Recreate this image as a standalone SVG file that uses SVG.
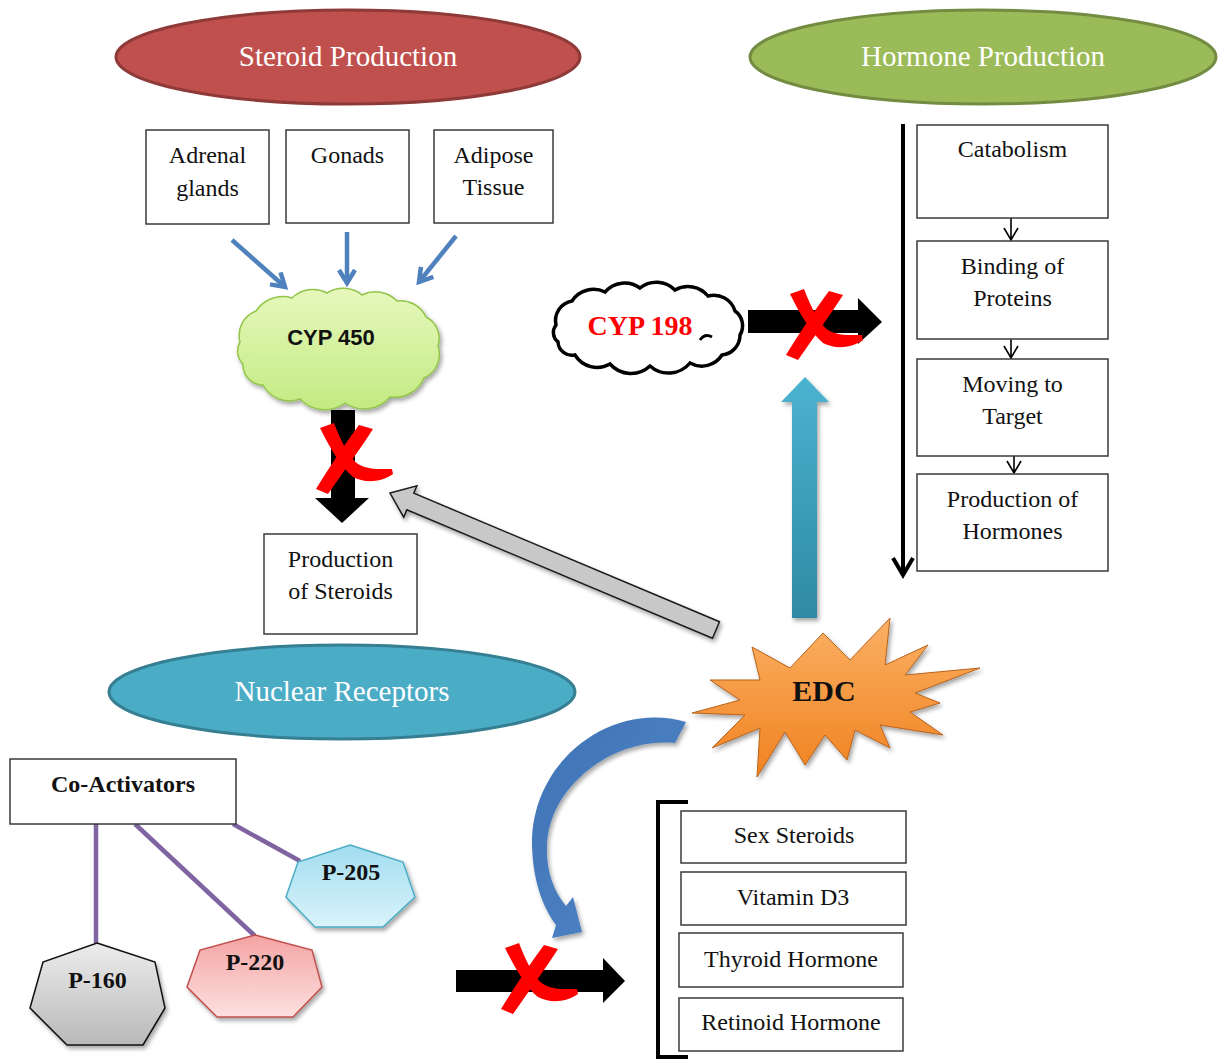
<svg xmlns="http://www.w3.org/2000/svg" width="1218" height="1061" viewBox="0 0 1218 1061">
<style>
.box{fill:#fff;stroke:#3a3a3a;stroke-width:1.5}
.t{font-family:"Liberation Serif","Times New Roman",serif;font-size:24px;fill:#111;text-anchor:middle}
.tb{font-family:"Liberation Serif","Times New Roman",serif;font-weight:bold;fill:#111;text-anchor:middle}
.tw{font-family:"Liberation Serif","Times New Roman",serif;font-size:29px;fill:#fff;text-anchor:middle}
.blue{stroke:#4f81bd;stroke-width:4.5;fill:none}
.purple{stroke:#8064a2;stroke-width:4.5;fill:none}
.chev{stroke:#000;stroke-width:1.6;fill:none}
</style>
<defs>
<filter id="sh" x="-20%" y="-20%" width="140%" height="140%"><feDropShadow dx="2" dy="3" stdDeviation="2" flood-color="#000" flood-opacity="0.35"/></filter>
<linearGradient id="gGreen" x1="0" y1="0" x2="0" y2="1"><stop offset="0" stop-color="#e6f8bc"/><stop offset="1" stop-color="#c3ea82"/></linearGradient>
<linearGradient id="gOrange" x1="0" y1="0" x2="0" y2="1"><stop offset="0" stop-color="#fbb064"/><stop offset="1" stop-color="#f08220"/></linearGradient>
<linearGradient id="gTeal" x1="0" y1="0" x2="0" y2="1"><stop offset="0" stop-color="#4bb3d0"/><stop offset="1" stop-color="#2f8aa3"/></linearGradient>
<linearGradient id="gBlue" x1="0" y1="0" x2="1" y2="1"><stop offset="0" stop-color="#3f73b5"/><stop offset="1" stop-color="#4f86c8"/></linearGradient>
<linearGradient id="gGray" x1="0" y1="0" x2="0" y2="1"><stop offset="0" stop-color="#ececec"/><stop offset="1" stop-color="#b9b9b9"/></linearGradient>
<linearGradient id="gPink" x1="0" y1="0" x2="0" y2="1"><stop offset="0" stop-color="#f4a3a3"/><stop offset="1" stop-color="#fde0e0"/></linearGradient>
<linearGradient id="gSky" x1="0" y1="0" x2="0" y2="1"><stop offset="0" stop-color="#a2ddef"/><stop offset="1" stop-color="#d9f3fb"/></linearGradient>
<marker id="bhead" viewBox="0 0 20 20" refX="16" refY="10" markerWidth="20" markerHeight="20" orient="auto" markerUnits="userSpaceOnUse"><path d="M3,2 L16,10 L3,18" fill="none" stroke="#4f81bd" stroke-width="4.5"/></marker>
<g id="redx" fill="#ff0000">
<path d="M -32 -28 L -18 -33 C -11 -15, -3 2, 6 8 C 16 14, 28 13, 40 13 L 41 18 C 28 27, 12 27, 1 21 C -11 11, -22 -8, -32 -28 Z"/>
<path d="M 7 -31 L 21 -27 C 9 -8, -8 15, -24 38 L -36 33 C -22 10, -7 -12, 7 -31 Z"/>
</g>
</defs>
<rect width="1218" height="1061" fill="#fff"/>

<g id="connectors">
<line class="blue" x1="232" y1="240" x2="285" y2="287" marker-end="url(#bhead)"/>
<line class="blue" x1="347" y1="232" x2="347" y2="283" marker-end="url(#bhead)"/>
<line class="blue" x1="456" y1="236" x2="419" y2="282" marker-end="url(#bhead)"/>
<polygon points="331,410 355,410 355,498 369,498 342,523 315,498 331,498" fill="#000"/>
<polygon points="390,493 416.9,485.8 413.8,493.2 719.5,621.7 712.5,638.3 406.8,509.8 403.7,517.2" fill="#c8c8c8" stroke="#1a1a1a" stroke-width="1.5" filter="url(#sh)"/>
<polygon points="748,310 858,310 858,298 882,322 858,344 858,333 748,333" fill="#000"/>
<polygon points="792,618 817,618 817,402 829,402 805,377 781,402 792,402" fill="url(#gTeal)" filter="url(#sh)"/>
<line x1="903" y1="124" x2="903" y2="574" stroke="#000" stroke-width="4"/>
<path d="M 893 558 L 903 575 L 913 558" fill="none" stroke="#000" stroke-width="4"/>
<path class="chev" d="M1011 218 L1011 240 M1004 228 L1011 240 L1018 228"/>
<path class="chev" d="M1011 339 L1011 358 M1004 346 L1011 358 L1018 346"/>
<path class="chev" d="M1014 456 L1014 473 M1007 461 L1014 473 L1021 461"/>
<path d="M 686 722 C 612 700, 531 760, 532 845 C 533 885, 545 910, 556 925 L 552 938 L 582 932 L 573 897 L 566 906 C 553 890, 546 870, 547 845 C 549 787, 612 737, 675 743 Z" fill="url(#gBlue)" filter="url(#sh)"/>
<polygon points="456,970 603,970 603,958 625,981 603,1003 603,992 456,992" fill="#000"/>
<path d="M 688 802 L 658 802 L 658 1057 L 688 1057" fill="none" stroke="#000" stroke-width="4"/>
<path class="purple" d="M96 824 L96 943"/>
<path class="purple" d="M135 824 L255 936"/>
<path class="purple" d="M233 824 L300 861"/>
<use href="#redx" transform="translate(352,456)"/>
<use href="#redx" transform="translate(822,322)"/>
<use href="#redx" transform="translate(537,976)"/>
</g>

<g id="steroid-production">
<ellipse cx="348" cy="57" rx="232" ry="47" fill="#c0504d" stroke="#8e3a38" stroke-width="3"/>
<text class="tw" x="348" y="66">Steroid Production</text>
</g>
<g id="hormone-production">
<ellipse cx="983" cy="57" rx="233" ry="47" fill="#9bbb59" stroke="#738c42" stroke-width="3"/>
<text class="tw" x="983" y="66">Hormone Production</text>
</g>
<g id="adrenal">
<rect class="box" x="146" y="130" width="123" height="94"/>
<text class="t" x="207.5" y="163">Adrenal</text><text class="t" x="207.5" y="196">glands</text>
</g>
<g id="gonads">
<rect class="box" x="286" y="130" width="123" height="93"/>
<text class="t" x="347.5" y="163">Gonads</text>
</g>
<g id="adipose">
<rect class="box" x="434" y="130" width="119" height="93"/>
<text class="t" x="493.5" y="163">Adipose</text><text class="t" x="493.5" y="195">Tissue</text>
</g>
<g id="cyp450">
<path d="M240 342 A26 26 0 0 1 256 311 A32 32 0 0 1 292 298 A30 30 0 0 1 327 293 A30 30 0 0 1 362 295 A30 30 0 0 1 397 301 A28 28 0 0 1 426 317 A24 24 0 0 1 438 346 A26 26 0 0 1 424 378 A32 32 0 0 1 390 397 A34 34 0 0 1 345 403 A34 34 0 0 1 300 399 A30 30 0 0 1 263 385 A20 20 0 0 1 243 364 A18 18 0 0 1 240 342 Z" fill="url(#gGreen)" stroke="#93c54b" stroke-width="1.5" filter="url(#sh)"/>
<text x="331" y="345" font-family="'Liberation Sans',Arial,sans-serif" font-weight="bold" font-size="22" text-anchor="middle" fill="#111">CYP 450</text>
</g>
<g id="cyp198">
<path d="M556 325 A20 20 0 0 1 572 301 A26 26 0 0 1 605 292 A26 26 0 0 1 640 288 A26 26 0 0 1 675 290 A26 26 0 0 1 708 296 A22 22 0 0 1 735 311 A18 18 0 0 1 740 335 A20 20 0 0 1 722 355 A24 24 0 0 1 690 363 A28 28 0 0 1 650 366 A28 28 0 0 1 610 364 A26 26 0 0 1 575 355 A14 14 0 0 1 558 342 A12 12 0 0 1 556 325 Z" fill="#fff" stroke="#000" stroke-width="3.5"/>
<path d="M 700 340 q 5 -7 12 -3" fill="none" stroke="#000" stroke-width="3"/>
<text class="tb" x="640" y="335" font-size="28" style="fill:#ff0000">CYP 198</text>
</g>
<g id="production-steroids">
<rect class="box" x="264" y="534" width="153" height="100"/>
<text class="t" x="340.5" y="567">Production</text><text class="t" x="340.5" y="599">of Steroids</text>
</g>
<g id="catabolism">
<rect class="box" x="917" y="125" width="191" height="93"/>
<text class="t" x="1012.5" y="157">Catabolism</text>
</g>
<g id="binding">
<rect class="box" x="917" y="241" width="191" height="98"/>
<text class="t" x="1012.5" y="274">Binding of</text><text class="t" x="1012.5" y="306">Proteins</text>
</g>
<g id="moving">
<rect class="box" x="917" y="359" width="191" height="97"/>
<text class="t" x="1012.5" y="392">Moving to</text><text class="t" x="1012.5" y="424">Target</text>
</g>
<g id="production-hormones">
<rect class="box" x="917" y="474" width="191" height="97"/>
<text class="t" x="1012.5" y="507">Production of</text><text class="t" x="1012.5" y="539">Hormones</text>
</g>
<g id="nuclear-receptors">
<ellipse cx="342" cy="692" rx="233" ry="47" fill="#4bacc6" stroke="#367f93" stroke-width="3"/>
<text class="tw" x="342" y="701">Nuclear Receptors</text>
</g>
<g id="edc">
<polygon points="752,647 790,668 823,633 850,660 890,618 885,665 928,645 905,675 980,668 915,693 940,703 910,712 943,735 880,725 890,748 855,730 847,760 825,735 805,765 785,732 757,777 760,728 712,748 745,715 692,713 740,700 710,680 760,680" fill="url(#gOrange)" stroke="#b8621c" stroke-width="1" filter="url(#sh)"/>
<text class="tb" x="824" y="701" font-size="30">EDC</text>
</g>
<g id="co-activators">
<rect class="box" x="10" y="759" width="226" height="65"/>
<text class="tb" x="123" y="792" font-size="24">Co-Activators</text>
</g>
<g id="p205">
<polygon points="350,845 403,862 415,897 383,927 315,927 286,897 298,862" fill="url(#gSky)" stroke="#4bacc6" stroke-width="1.5" filter="url(#sh)"/>
<text class="tb" x="351" y="880" font-size="24">P-205</text>
</g>
<g id="p220">
<polygon points="255,935 312,950 322,987 293,1017 217,1017 187,987 200,950" fill="url(#gPink)" stroke="#c0504d" stroke-width="1.5" filter="url(#sh)"/>
<text class="tb" x="255" y="970" font-size="24">P-220</text>
</g>
<g id="p160">
<polygon points="97,943 155,962 165,1008 143,1045 67,1045 30,1008 43,962" fill="url(#gGray)" stroke="#111" stroke-width="1.5" filter="url(#sh)"/>
<text class="tb" x="97.5" y="988" font-size="24">P-160</text>
</g>
<g id="sex-steroids">
<rect class="box" x="681" y="811" width="225" height="52"/>
<text class="t" x="794" y="843">Sex Steroids</text>
</g>
<g id="vitamin-d3">
<rect class="box" x="681" y="872" width="225" height="53"/>
<text class="t" x="793" y="905">Vitamin D3</text>
</g>
<g id="thyroid">
<rect class="box" x="679" y="933" width="224" height="54"/>
<text class="t" x="791" y="967">Thyroid Hormone</text>
</g>
<g id="retinoid">
<rect class="box" x="679" y="998" width="224" height="53"/>
<text class="t" x="791" y="1030">Retinoid Hormone</text>
</g>
</svg>
